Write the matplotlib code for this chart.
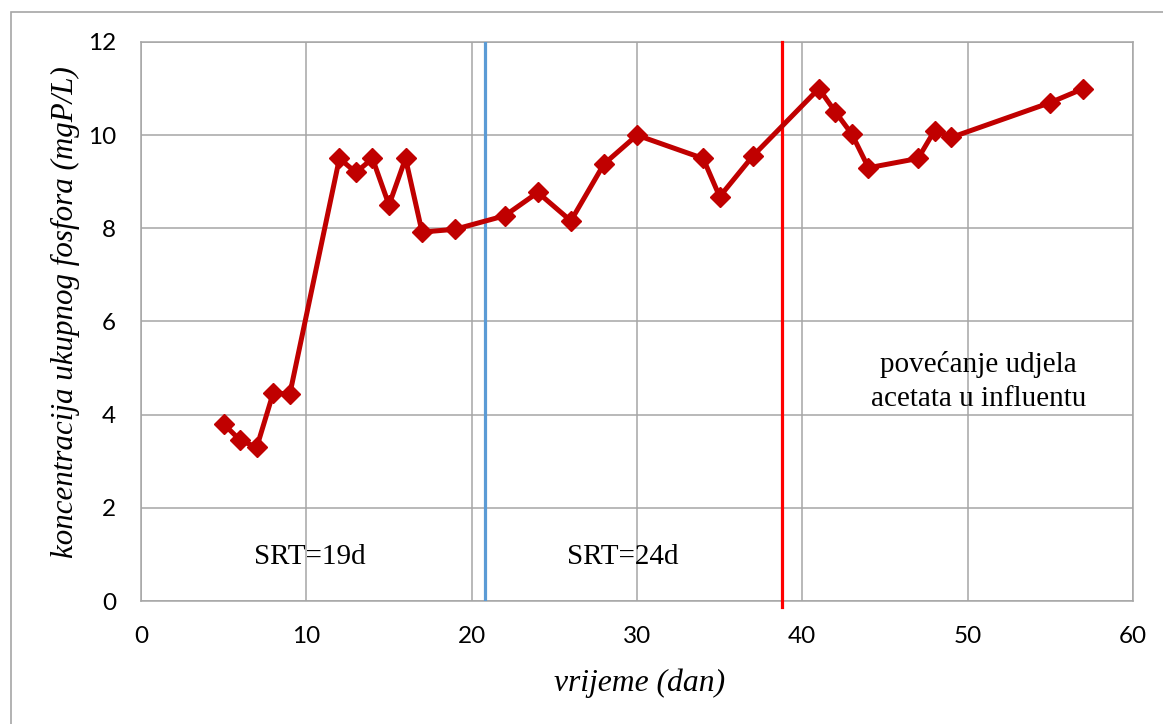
import matplotlib
matplotlib.use("Agg")
import matplotlib.pyplot as plt
from matplotlib.patches import Rectangle

# time (days) and total phosphorus concentration (mgP/L)
days = [5, 6, 7, 8, 9, 12, 13, 14, 15, 16, 17, 19, 22, 24, 26, 28, 30,
        34, 35, 37, 41, 42, 43, 44, 47, 48, 49, 55, 57]
tp_conc = [3.8, 3.45, 3.3, 4.47, 4.44, 9.5, 9.2, 9.5, 8.5, 9.5, 7.92, 7.98,
           8.27, 8.77, 8.16, 9.38, 10.0, 9.5, 8.68, 9.55, 11.0, 10.5, 10.02,
           9.3, 9.5, 10.1, 9.95, 10.7, 11.0]

srt_change_day = 20.8
acetate_change_day = 38.8

x_ticks = [0, 10, 20, 30, 40, 50, 60]
y_ticks = [0, 2, 4, 6, 8, 10, 12]

serif = "Liberation Serif"
sans = "Lato"
grid_col = "#a6a6a6"

fig = plt.figure(figsize=(11.63, 7.24), dpi=100)
# outer chart frame (only top/left edges visible)
fig.patches.append(Rectangle((11 / 1163, -0.1), 1.2, 1.1 - 12 / 724,
                             transform=fig.transFigure, fill=False,
                             edgecolor=grid_col, linewidth=1.2))

ax = fig.add_axes([141 / 1163, 1 - 601 / 724, (1133 - 141) / 1163, (601 - 42) / 724])

ax.grid(True, color=grid_col, linewidth=1.1)
ax.set_axisbelow(True)
for s in ax.spines.values():
    s.set_color(grid_col)
    s.set_linewidth(1.1)

ax.axvline(srt_change_day, color="#5b9bd5", linewidth=2.3, zorder=3)
ax.axvline(acetate_change_day, ymin=-0.01, color="#ff0000", linewidth=2.3,
           zorder=3, clip_on=False)

ax.plot(days, tp_conc, color="#c00000", linewidth=3.6, marker="D",
        markersize=10, markeredgewidth=1.0, zorder=4)

ax.set_xlim(0, 60)
ax.set_ylim(0, 12)
ax.set_xticks(x_ticks)
ax.set_yticks(y_ticks)
ax.tick_params(length=0, labelsize=17.5, colors="black")
ax.tick_params(axis="x", pad=18)
ax.tick_params(axis="y", pad=18)
for lbl in ax.get_xticklabels() + ax.get_yticklabels():
    lbl.set_fontfamily(sans)

txt = dict(family=serif, fontsize=21, ha="center", va="center")
ax.text(10.2, 0.95, "SRT=19d", **txt)
ax.text(29.15, 0.95, "SRT=24d", **txt)
ax.text(50.66, 4.72, "povećanje udjela\nacetata u influentu", linespacing=1.4, **txt)

fig.text(65 / 1163, 1 - 312 / 724, "koncentracija ukupnog fosfora (mgP/L)",
         rotation=90, ha="center", va="center", family=serif, style="italic",
         fontsize=22.3)
fig.text(640 / 1163, 1 - 683 / 724, "vrijeme (dan)", ha="center", va="center",
         family=serif, style="italic", fontsize=22.8)

fig.savefig("out.png", dpi=100)
